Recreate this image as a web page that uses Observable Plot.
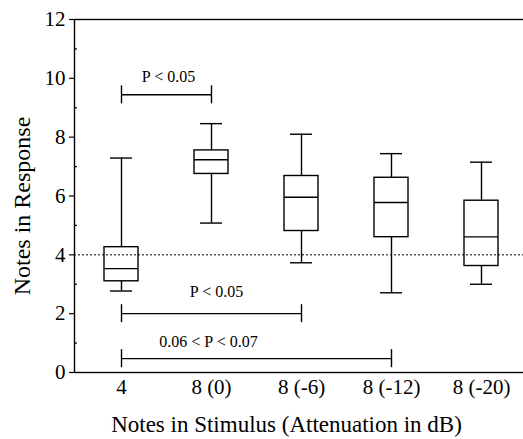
<!DOCTYPE html>
<html><head><meta charset="utf-8">
<script src="https://cdn.jsdelivr.net/npm/d3@7"></script>
<script src="https://cdn.jsdelivr.net/npm/@observablehq/plot@0.6"></script>
<style>html,body{margin:0;padding:0;background:#fff;overflow:hidden}
svg text, svg tspan{font-family:"Liberation Serif", "Times New Roman", serif !important}</style>
</head><body><div id="chart"></div>
<script>
const categories = ["4", "8 (0)", "8 (-6)", "8 (-12)", "8 (-20)"];
const whiskerLow  = [2.77, 5.08, 3.73, 2.71, 3.00];
const q1          = [3.10, 6.75, 4.81, 4.60, 3.62];
const median      = [3.53, 7.23, 5.96, 5.78, 4.61];
const q3          = [4.26, 7.55, 6.68, 6.62, 5.84];
const whiskerHigh = [7.29, 8.46, 8.10, 7.44, 7.15];

const yTicks = [0, 2, 4, 6, 8, 10, 12];
const yMinorTicks = [1, 3, 5, 7, 9, 11];
const referenceLevel = [4];

const bracketFrom  = ["4", "4", "4"];
const bracketTo    = ["8 (0)", "8 (-6)", "8 (-12)"];
const bracketY     = [9.44, 2.0, 0.47];
const bracketText  = ["P < 0.05", "P < 0.05", "0.06 < P < 0.07"];
const bracketTextY = [9.89, 2.55, 0.85];
const bracketTextX = ["4", "8 (0)", "8 (0)"];
const bracketTextDx = [47, 5, -3];

const yLabel = "Notes in Response";
const xLabel = "Notes in Stimulus (Attenuation in dB)";

const boxes = categories.map((c, i) => ({cat: c, lo: whiskerLow[i], q1: q1[i], med: median[i], q3: q3[i], hi: whiskerHigh[i]}));
const brackets = bracketFrom.map((f, i) => ({from: f, to: bracketTo[i], y: bracketY[i], text: bracketText[i], ty: bracketTextY[i], tx: bracketTextX[i], dx: bracketTextDx[i]}));

const serif = "Liberation Serif";
const W = 523, mL = 74, mR = -5;
const boxInset = 28, capInset = 34;
const sw = 1.4;
const minorLen = 3;

const chart = Plot.plot({
  width: W,
  height: 439,
  marginLeft: mL,
  marginRight: mR,
  marginTop: 19,
  marginBottom: 67,
  style: {background: "#fff", color: "#000"},
  x: {type: "band", domain: categories, padding: 0, label: null},
  y: {domain: [0, 12], label: null},
  marks: [
    Plot.frame({stroke: "#000", strokeWidth: sw}),
    Plot.axisY({ticks: yTicks, tickSize: 5, tickPadding: 4, fontSize: 21, fontFamily: serif, label: null, strokeWidth: 1.2}),
    // inward minor ticks on the left axis
    Plot.tickY(yMinorTicks, {y: (d) => d, insetRight: (W - mR - mL) - minorLen, stroke: "#000", strokeWidth: 1.2}),
    Plot.axisX({tickSize: 0, tickPadding: 7, fontSize: 21, fontFamily: serif, label: null}),
    // whiskers
    Plot.ruleX(boxes, {x: "cat", y1: "lo", y2: "q1", stroke: "#000", strokeWidth: sw}),
    Plot.ruleX(boxes, {x: "cat", y1: "q3", y2: "hi", stroke: "#000", strokeWidth: sw}),
    Plot.tickY(boxes, {x: "cat", y: "lo", insetLeft: capInset, insetRight: capInset, stroke: "#000", strokeWidth: sw}),
    Plot.tickY(boxes, {x: "cat", y: "hi", insetLeft: capInset, insetRight: capInset, stroke: "#000", strokeWidth: sw}),
    // boxes
    Plot.barY(boxes, {x: "cat", y1: "q1", y2: "q3", insetLeft: boxInset, insetRight: boxInset, fill: "none", stroke: "#000", strokeWidth: sw}),
    Plot.tickY(boxes, {x: "cat", y: "med", insetLeft: boxInset, insetRight: boxInset, stroke: "#000", strokeWidth: sw}),
    // reference dotted line
    Plot.ruleY(referenceLevel, {stroke: "#000", strokeWidth: 1, strokeDasharray: "2,2"}),
    // significance brackets
    Plot.link(brackets, {x1: "from", x2: "to", y1: "y", y2: "y", stroke: "#000", strokeWidth: sw}),
    Plot.ruleX(brackets, {x: "from", y1: "y", y2: "y", insetTop: -9, insetBottom: -9, stroke: "#000", strokeWidth: sw}),
    Plot.ruleX(brackets, {x: "to", y1: "y", y2: "y", insetTop: -9, insetBottom: -9, stroke: "#000", strokeWidth: sw}),
    ...brackets.map((b) => Plot.text([b], {x: "tx", y: "ty", text: "text", dx: b.dx, lineAnchor: "bottom", fontSize: 16, fontFamily: serif, fill: "#000"})),
    // axis titles
    Plot.text([yLabel], {frameAnchor: "left", textAnchor: "middle", rotate: -90, dx: -45, dy: 10, lineAnchor: "bottom", fontSize: 24, fontFamily: serif, fill: "#000"}),
    Plot.text([xLabel], {frameAnchor: "bottom", textAnchor: "middle", dx: -15, dy: 59, lineAnchor: "bottom", fontSize: 23, fontFamily: serif, fill: "#000"})
  ]
});
document.getElementById("chart").appendChild(chart);
</script>
</body></html>
